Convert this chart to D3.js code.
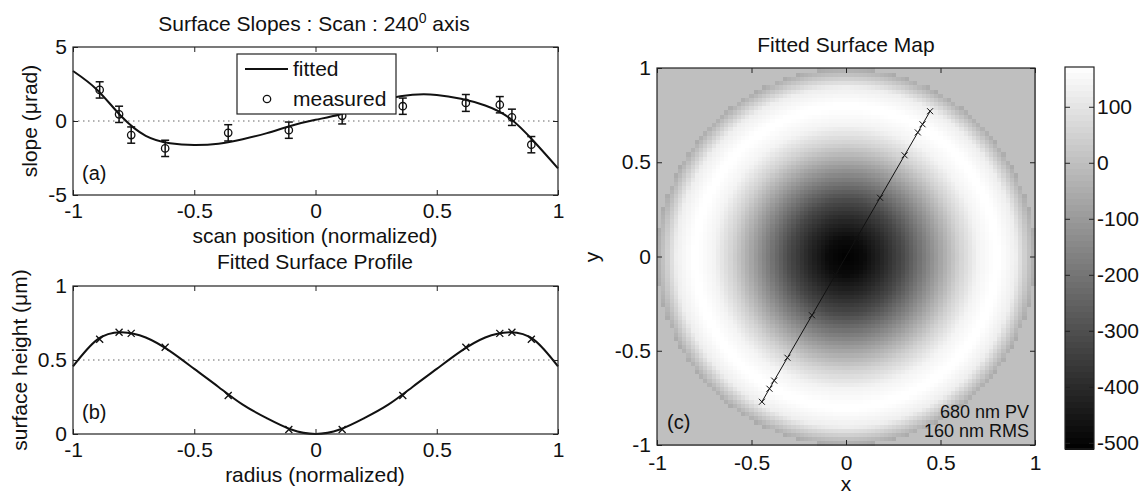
<!DOCTYPE html>
<html>
<head>
<meta charset="utf-8">
<script src="https://cdn.jsdelivr.net/npm/d3@7"></script>
<style>
  body { margin: 0; background: #fff; }
  svg { display: block; font-family: "Liberation Sans", Arial, sans-serif; }
  .tick text { font-size: 21px; fill: #111; }
  .tick line { stroke: #222; }
</style>
</head>
<body>
<div id="app"></div>
<script>
// Scan positions (normalized) where slopes were measured
const scanPos = [-0.89, -0.81, -0.76, -0.62, -0.36, -0.11, 0.11, 0.36, 0.62, 0.76, 0.81, 0.89];
const measuredSlope = [2.1, 0.45, -0.95, -1.85, -0.8, -0.62, 0.35, 1.0, 1.22, 1.1, 0.25, -1.6];
const slopeError = [0.55, 0.55, 0.55, 0.55, 0.55, 0.55, 0.55, 0.55, 0.57, 0.55, 0.55, 0.55];

// Fitted slope curve, read at regular positions
const fitPos = [-1, -0.9, -0.8, -0.7, -0.6, -0.5, -0.4, -0.3, -0.2, -0.1, 0, 0.1, 0.2, 0.3, 0.4, 0.5, 0.6, 0.7, 0.8, 0.9, 1];
const fittedSlope = [3.38, 2.1, 0.3, -1.0, -1.5, -1.62, -1.53, -1.23, -0.82, -0.32, 0.08, 0.44, 0.97, 1.5, 1.77, 1.76, 1.5, 1.05, 0.2, -1.37, -3.2];

// Fitted surface profile (um) along the radius
const profileRadius = [-1, -0.9, -0.8, -0.7, -0.6, -0.5, -0.4, -0.3, -0.2, -0.1, 0, 0.1, 0.2, 0.3, 0.4, 0.5, 0.6, 0.7, 0.8, 0.9, 1];
const profileHeight = [0.457, 0.638, 0.688, 0.652, 0.56, 0.44, 0.318, 0.198, 0.106, 0.03, 0, 0.03, 0.106, 0.198, 0.318, 0.44, 0.56, 0.652, 0.688, 0.638, 0.457];
const markerHeight = [0.64, 0.687, 0.68, 0.586, 0.26, 0.03, 0.03, 0.26, 0.586, 0.68, 0.687, 0.64];

// Surface map settings
const colorLimits = [-511, 171];
const colorTicks = [100, 0, -100, -200, -300, -400, -500];
const heightOffset = 511; // nm, shifts the profile to the map's colour scale
const scanAngle = 240;
const gridSize = 90;

const unitTicks = [-1, -0.5, 0, 0.5, 1];
const slopeTicks = [-5, 0, 5];
const heightTicks = [0, 0.5, 1];

const svg = d3.select('#app').append('svg').attr('width', 1144).attr('height', 495);
const ink = '#111';
const fmt = (d) => String(d);

// Box with inward ticks on all four sides, labels left and bottom.
function frame(g, x, y, xTicks, yTicks, pad) {
  const [x0, x1] = x.range();
  const [y0, y1] = y.range();
  g.append('g').attr('transform', `translate(0,${y0})`)
    .call(d3.axisBottom(x).tickValues(xTicks).tickSize(-5).tickSizeOuter(0).tickPadding(pad.bottom).tickFormat(fmt));
  g.append('g').attr('transform', `translate(0,${y1})`)
    .call(d3.axisTop(x).tickValues(xTicks).tickSize(-5).tickSizeOuter(0).tickFormat(''));
  g.append('g').attr('transform', `translate(${x0},0)`)
    .call(d3.axisLeft(y).tickValues(yTicks).tickSize(-5).tickSizeOuter(0).tickPadding(6).tickFormat(fmt));
  g.append('g').attr('transform', `translate(${x1},0)`)
    .call(d3.axisRight(y).tickValues(yTicks).tickSize(-5).tickSizeOuter(0).tickFormat(''));
  g.selectAll('.domain').remove();
  g.append('rect')
    .attr('x', x0).attr('y', y1)
    .attr('width', x1 - x0).attr('height', y0 - y1)
    .attr('fill', 'none').attr('stroke', '#222').attr('stroke-width', 1.2);
}

function label(text, x, y, size, opts = {}) {
  const t = svg.append('text')
    .attr('x', x).attr('y', y)
    .attr('font-size', size).attr('fill', ink)
    .attr('text-anchor', opts.anchor || 'middle')
    .text(text);
  if (opts.rotate) t.attr('transform', `rotate(-90,${x},${y})`);
  return t;
}

// ---------- (a) Surface slopes ----------
const xa = d3.scaleLinear().domain([-1, 1]).range([73, 558]);
const ya = d3.scaleLinear().domain([-5, 5]).range([195, 47]);
const ga = svg.append('g');

ga.append('line')
  .attr('x1', xa(-1)).attr('x2', xa(1)).attr('y1', ya(0)).attr('y2', ya(0))
  .attr('stroke', '#666').attr('stroke-dasharray', '1.5,3.5');

ga.append('path')
  .datum(fitPos.map((p, i) => [p, fittedSlope[i]]))
  .attr('fill', 'none').attr('stroke', ink).attr('stroke-width', 2)
  .attr('d', d3.line().x((d) => xa(d[0])).y((d) => ya(d[1])).curve(d3.curveNatural));

const pts = ga.selectAll('.pt')
  .data(scanPos.map((p, i) => ({ p, v: measuredSlope[i], e: slopeError[i] })))
  .join('g').attr('class', 'pt')
  .attr('stroke', ink).attr('stroke-width', 1.5).attr('fill', 'none');
pts.append('line')
  .attr('x1', (d) => xa(d.p)).attr('x2', (d) => xa(d.p))
  .attr('y1', (d) => ya(d.v - d.e)).attr('y2', (d) => ya(d.v + d.e));
pts.append('line')
  .attr('x1', (d) => xa(d.p) - 4).attr('x2', (d) => xa(d.p) + 4)
  .attr('y1', (d) => ya(d.v - d.e)).attr('y2', (d) => ya(d.v - d.e));
pts.append('line')
  .attr('x1', (d) => xa(d.p) - 4).attr('x2', (d) => xa(d.p) + 4)
  .attr('y1', (d) => ya(d.v + d.e)).attr('y2', (d) => ya(d.v + d.e));
pts.append('circle')
  .attr('cx', (d) => xa(d.p)).attr('cy', (d) => ya(d.v)).attr('r', 3.7)
  .attr('stroke-width', 1.3);

frame(ga, xa, ya, unitTicks, slopeTicks, { bottom: 8 });

// legend
const lg = svg.append('g');
lg.append('rect').attr('x', 237).attr('y', 54).attr('width', 159).attr('height', 60)
  .attr('fill', '#fff').attr('stroke', '#222').attr('stroke-width', 1.2);
lg.append('line').attr('x1', 245).attr('x2', 288).attr('y1', 69).attr('y2', 69)
  .attr('stroke', ink).attr('stroke-width', 2);
lg.append('circle').attr('cx', 267).attr('cy', 99).attr('r', 3.7)
  .attr('fill', 'none').attr('stroke', ink).attr('stroke-width', 1.3);
label('fitted', 293, 76, 21, { anchor: 'start' });
label('measured', 293, 106, 21, { anchor: 'start' });

const ta = label('Surface Slopes : Scan : 240', 314, 31, 21);
ta.append('tspan').attr('dy', -8).attr('font-size', 14).text('0');
ta.append('tspan').attr('dy', 8).text(' axis');
label('scan position (normalized)', 315, 243, 21);
label('slope (\u03bcrad)', 37, 121, 21, { rotate: true });
label('(a)', 82, 180, 20, { anchor: 'start' });

// ---------- (b) Surface profile ----------
const xb = d3.scaleLinear().domain([-1, 1]).range([73, 558]);
const yb = d3.scaleLinear().domain([0, 1]).range([434, 286]);
const gb = svg.append('g');

gb.append('line')
  .attr('x1', xb(-1)).attr('x2', xb(1)).attr('y1', yb(0.5)).attr('y2', yb(0.5))
  .attr('stroke', '#666').attr('stroke-dasharray', '1.5,3.5');

gb.append('path')
  .datum(profileRadius.map((r, i) => [r, profileHeight[i]]))
  .attr('fill', 'none').attr('stroke', ink).attr('stroke-width', 2)
  .attr('d', d3.line().x((d) => xb(d[0])).y((d) => yb(d[1])).curve(d3.curveNatural));

const cross = 'M-3.5,-3.5L3.5,3.5M-3.5,3.5L3.5,-3.5';
gb.selectAll('.mk')
  .data(scanPos.map((p, i) => [p, markerHeight[i]]))
  .join('path').attr('class', 'mk')
  .attr('transform', (d) => `translate(${xb(d[0])},${yb(d[1])})`)
  .attr('d', cross).attr('stroke', ink).attr('stroke-width', 1.3);

frame(gb, xb, yb, unitTicks, heightTicks, { bottom: 8 });

label('Fitted Surface Profile', 315, 269, 21);
label('radius (normalized)', 315, 482, 21);
label('surface height (\u03bcm)', 27, 360, 21, { rotate: true });
label('(b)', 82, 419, 20, { anchor: 'start' });

// ---------- (c) Surface map ----------
const xc = d3.scaleLinear().domain([-1, 1]).range([657, 1035]);
const yc = d3.scaleLinear().domain([-1, 1]).range([445, 68]);
const color = d3.scaleLinear().domain(colorLimits).range(['#000', '#fff']).clamp(true);
const profileAt = d3.scaleLinear().domain(profileRadius).range(profileHeight);
const gc = svg.append('g');

const step = 2 / gridSize;
const cells = [];
for (let i = 0; i < gridSize; i++) {
  for (let j = 0; j < gridSize; j++) {
    const cx = -1 + (i + 0.5) * step;
    const cy = -1 + (j + 0.5) * step;
    const r = Math.hypot(cx, cy);
    const v = r <= 1 ? profileAt(r) * 1000 - heightOffset : 0;
    cells.push({ x0: -1 + i * step, y0: -1 + j * step, v });
  }
}
gc.append('g').attr('shape-rendering', 'crispEdges')
  .selectAll('rect').data(cells).join('rect')
  .attr('x', (d) => xc(d.x0))
  .attr('y', (d) => yc(d.y0 + step))
  .attr('width', xc(step) - xc(0) + 0.6)
  .attr('height', yc(0) - yc(step) + 0.6)
  .attr('fill', (d) => color(d.v));

// scan line with measurement markers
const a = (scanAngle * Math.PI) / 180;
const scanXY = scanPos.map((s) => [s * Math.cos(a), s * Math.sin(a)]);
gc.append('path')
  .datum(scanXY)
  .attr('fill', 'none').attr('stroke', ink).attr('stroke-width', 1)
  .attr('d', d3.line().x((d) => xc(d[0])).y((d) => yc(d[1])));
gc.selectAll('.mk')
  .data(scanXY).join('path').attr('class', 'mk')
  .attr('transform', (d) => `translate(${xc(d[0])},${yc(d[1])})`)
  .attr('d', 'M-3,-3L3,3M-3,3L3,-3').attr('stroke', ink).attr('stroke-width', 1);

frame(gc, xc, yc, unitTicks, unitTicks, { bottom: 10 });

label('Fitted Surface Map', 846, 52, 21);
label('x', 846, 491, 21);
label('y', 599, 257, 21, { rotate: true });
label('(c)', 667, 429, 20, { anchor: 'start' });
label('680 nm PV', 1029, 418, 18, { anchor: 'end' });
label('160 nm RMS', 1029, 437, 18, { anchor: 'end' });

// colour bar
const yk = d3.scaleLinear().domain(colorLimits).range([449, 67]);
const levels = 64;
const lvStep = (colorLimits[1] - colorLimits[0]) / levels;
const gk = svg.append('g');
gk.append('g').attr('shape-rendering', 'crispEdges')
  .selectAll('rect').data(d3.range(levels)).join('rect')
  .attr('x', 1065).attr('width', 29)
  .attr('y', (i) => yk(colorLimits[0] + (i + 1) * lvStep))
  .attr('height', (i) => yk(colorLimits[0] + i * lvStep) - yk(colorLimits[0] + (i + 1) * lvStep) + 0.5)
  .attr('fill', (i) => color(colorLimits[0] + (i + 0.5) * lvStep));
gk.append('g').attr('transform', 'translate(1094,0)')
  .call(d3.axisRight(yk).tickValues(colorTicks).tickSize(-5).tickSizeOuter(0).tickPadding(3).tickFormat(fmt));
gk.append('g').attr('transform', 'translate(1065,0)')
  .call(d3.axisLeft(yk).tickValues(colorTicks).tickSize(-5).tickSizeOuter(0).tickFormat(''));
gk.selectAll('.domain').remove();
gk.append('rect').attr('x', 1065).attr('y', 67).attr('width', 29).attr('height', 382)
  .attr('fill', 'none').attr('stroke', '#222').attr('stroke-width', 1.2);
</script>
</body>
</html>
